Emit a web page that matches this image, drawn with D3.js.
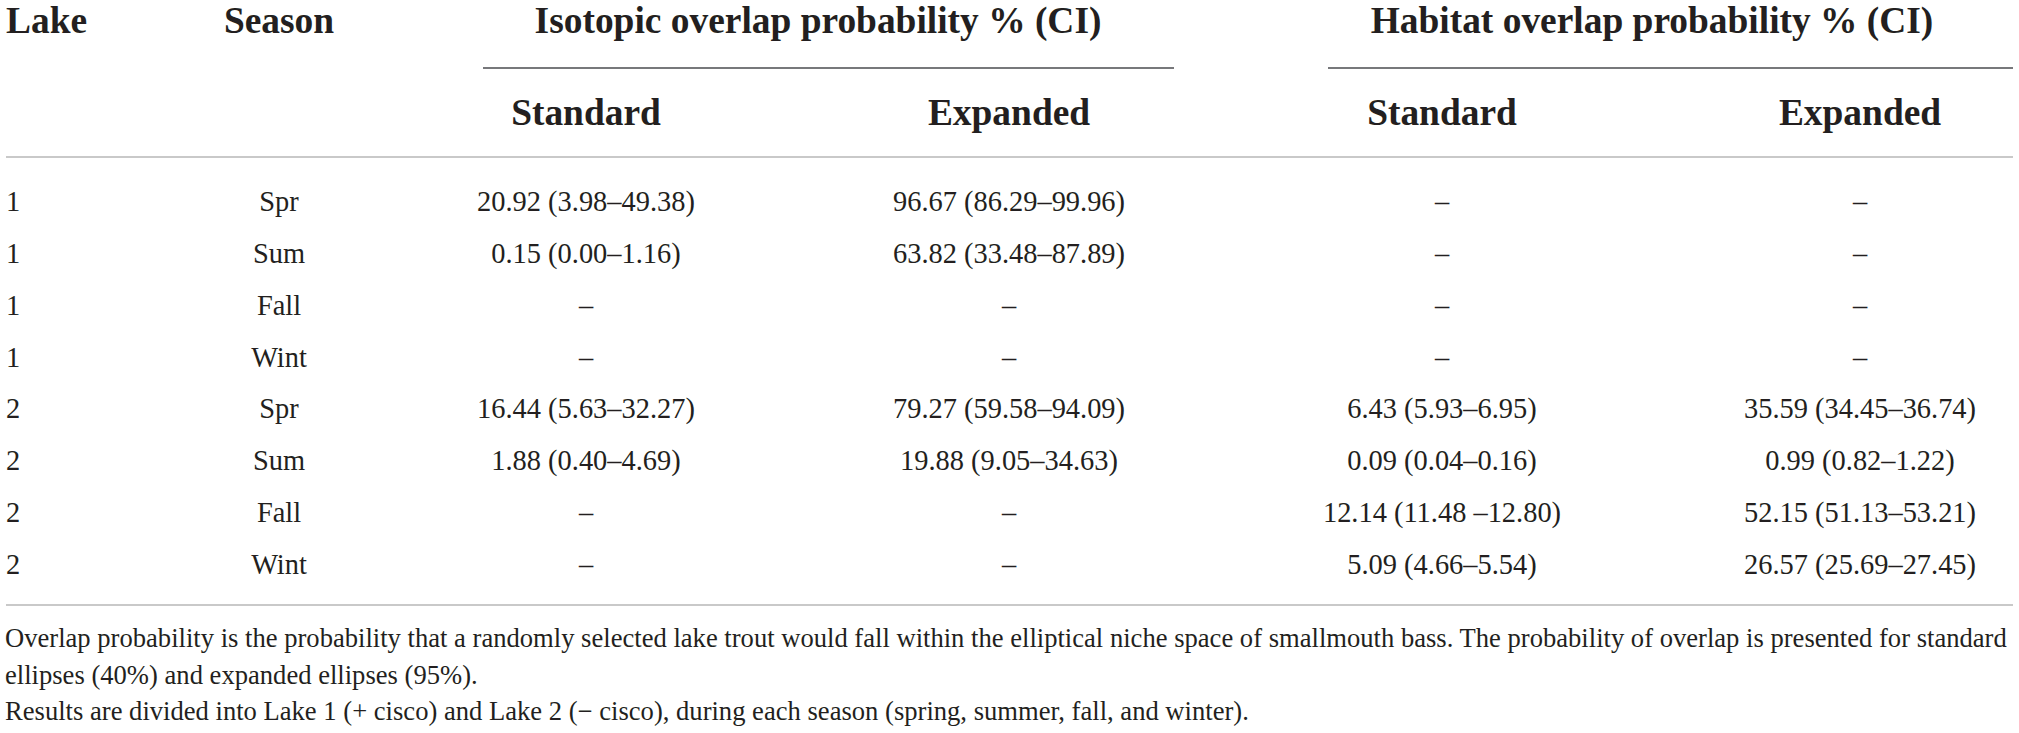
<!DOCTYPE html>
<html>
<head>
<meta charset="utf-8">
<script src="https://cdn.jsdelivr.net/npm/d3@7"></script>
<style>
  body { margin: 0; background: #fff; }
  svg { display: block; }
  text { font-family: "Liberation Serif", "Times New Roman", serif; fill: #231f20; }
  .head { font-weight: bold; font-size: 38px; }
  .cell { font-size: 29px; }
  .note { font-size: 27px; }
</style>
</head>
<body>
<svg id="table"></svg>
<script>
// table content
var lakes = ["1", "1", "1", "1", "2", "2", "2", "2"];
var seasons = ["Spr", "Sum", "Fall", "Wint", "Spr", "Sum", "Fall", "Wint"];
var isoStandard = ["20.92 (3.98–49.38)", "0.15 (0.00–1.16)", "–", "–",
  "16.44 (5.63–32.27)", "1.88 (0.40–4.69)", "–", "–"];
var isoExpanded = ["96.67 (86.29–99.96)", "63.82 (33.48–87.89)", "–", "–",
  "79.27 (59.58–94.09)", "19.88 (9.05–34.63)", "–", "–"];
var habStandard = ["–", "–", "–", "–",
  "6.43 (5.93–6.95)", "0.09 (0.04–0.16)", "12.14 (11.48 –12.80)", "5.09 (4.66–5.54)"];
var habExpanded = ["–", "–", "–", "–",
  "35.59 (34.45–36.74)", "0.99 (0.82–1.22)", "52.15 (51.13–53.21)", "26.57 (25.69–27.45)"];

var columns = ["lake", "season", "isoStd", "isoExp", "habStd", "habExp"];
var subHeaders = ["Standard", "Expanded", "Standard", "Expanded"];
var groupHeaders = ["Isotopic overlap probability % (CI)", "Habitat overlap probability % (CI)"];
var notes = [
  "Overlap probability is the probability that a randomly selected lake trout would fall within the elliptical niche space of smallmouth bass. The probability of overlap is presented for standard",
  "ellipses (40%) and expanded ellipses (95%).",
  "Results are divided into Lake 1 (+ cisco) and Lake 2 (− cisco), during each season (spring, summer, fall, and winter)."
];

var width = 2019;
var height = 733;

var svg = d3.select("#table")
  .attr("width", width)
  .attr("height", height);

// column anchors
var xScale = d3.scaleOrdinal()
  .domain(columns)
  .range([6, 279, 586, 1009, 1442, 1860]);

var rowScale = d3.scaleLinear()
  .domain([0, lakes.length - 1])
  .range([211, 574]);

// measure a string so the Liberation glyphs can be squeezed to the original widths
function measure(str, cls) {
  var t = svg.append("text").attr("class", cls).text(str);
  var w = t.node().getComputedTextLength();
  t.remove();
  return w;
}

var headScale = 567 / measure(groupHeaders[0], "head");
var cellScale = 218 / measure(isoStandard[0], "cell");
var noteScale = 2002 / measure(notes[0], "note");

function addText(str, x, y, cls, sx, anchor) {
  svg.append("text")
    .attr("class", cls)
    .attr("text-anchor", anchor || "middle")
    .attr("transform", `translate(${x}, ${y}) scale(${sx}, 1)`)
    .text(str);
}

// header rows
addText("Lake", xScale("lake"), 33, "head", headScale, "start");
addText("Season", xScale("season"), 33, "head", headScale);
addText(groupHeaders[0], 818, 33, "head", headScale);
addText(groupHeaders[1], 1652, 33, "head", headScale);

["isoStd", "isoExp", "habStd", "habExp"].forEach(function(c, i) {
  addText(subHeaders[i], xScale(c), 125, "head", headScale);
});

// rules
var rules = [
  { x1: 483, x2: 1174, y: 68, color: "#77787b" },
  { x1: 1328, x2: 2013, y: 68, color: "#77787b" },
  { x1: 6, x2: 2013, y: 157, color: "#c9c9c9" },
  { x1: 6, x2: 2013, y: 605, color: "#c9c9c9" }
];

svg.selectAll("line.rule")
  .data(rules)
  .enter()
  .append("line")
  .attr("class", "rule")
  .attr("x1", d => d.x1)
  .attr("x2", d => d.x2)
  .attr("y1", d => d.y)
  .attr("y2", d => d.y)
  .attr("stroke", d => d.color)
  .attr("stroke-width", 2);

// body
var body = [lakes, seasons, isoStandard, isoExpanded, habStandard, habExpanded];
body.forEach(function(col, ci) {
  col.forEach(function(val, ri) {
    addText(val, xScale(columns[ci]), rowScale(ri), "cell", cellScale, ci === 0 ? "start" : "middle");
  });
});

// footnotes
var noteY = [647, 684, 720];
notes.forEach(function(n, i) {
  addText(n, 5, noteY[i], "note", noteScale, "start");
});
</script>
</body>
</html>
